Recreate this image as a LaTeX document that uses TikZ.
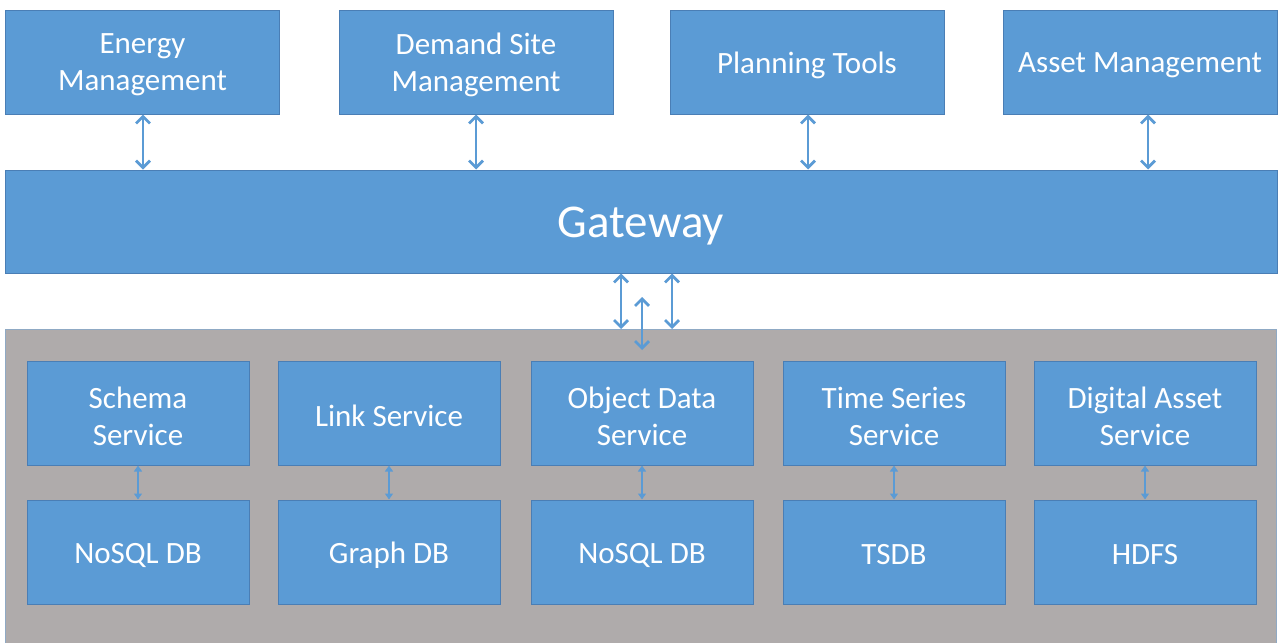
\documentclass[tikz,border=0pt]{standalone}
\usepackage{fontspec}
\setmainfont{Carlito}
\usetikzlibrary{arrows.meta}
\definecolor{boxblue}{HTML}{5B9BD5}
\definecolor{boxedge}{HTML}{4A7EB5}
\definecolor{panelgray}{HTML}{AFABAB}
\definecolor{paneledge}{HTML}{8FA9C4}
\tikzset{
  caption/.style={text=white, align=center, inner sep=0pt, yshift=-3pt,
    font=\fontsize{31}{37}\selectfont},
  blk/.style={draw=boxedge, line width=1pt, fill=boxblue, inner sep=0pt,
    label={[caption]center:#1}},
  topblk/.style={blk=#1, minimum width=274pt, minimum height=104pt},
  svcblk/.style={blk=#1, minimum width=222pt, minimum height=104pt},
  bigarrow/.style={draw=boxblue, line width=2.8pt,
    {Straight Barb[length=7pt,width=14pt,line width=2.8pt]}-{Straight Barb[length=7pt,width=14pt,line width=2.8pt]}},
  smallarrow/.style={draw=boxblue, line width=1.2pt,
    {Triangle[length=6pt,width=8pt]}-{Triangle[length=6pt,width=8pt]}}
}
\begin{document}
\begin{tikzpicture}[x=1pt,y=-1pt]
\useasboundingbox (0,0) rectangle (1278,643);
\fill[white] (0,0) rectangle (1278,643);

% back-end panel
\filldraw[fill=panelgray, draw=paneledge, line width=1pt] (5,329) rectangle (1276,650);

% applications
\node[topblk={Energy\\Management}]      (em)  at (142.5,62) {};
\node[topblk={Demand Site\\Management}] (dsm) at (476,62) {};
\node[topblk={Planning Tools}]          (pt)  at (807,62) {};
\node[topblk={Asset Management}]        (am)  at (1140,62) {};

% gateway
\node[draw=boxedge, line width=1pt, fill=boxblue, inner sep=0pt,
      minimum width=1272pt, minimum height=103pt,
      label={[caption, yshift=-2pt, font=\fontsize{47}{52}\selectfont]center:Gateway}]
      (gw) at (641,221.5) {};

% services
\node[svcblk={Schema\\Service}]       (s1) at (138,413) {};
\node[svcblk={Link Service}]          (s2) at (389,413) {};
\node[svcblk={Object Data\\Service}]  (s3) at (642,413) {};
\node[svcblk={Time Series\\Service}]  (s4) at (894,413) {};
\node[svcblk={Digital Asset\\Service}] (s5) at (1145,413) {};

% stores
\node[svcblk={NoSQL DB}] (d1) at (138,552) {};
\node[svcblk={Graph DB}] (d2) at (389,552) {};
\node[svcblk={NoSQL DB}] (d3) at (642,552) {};
\node[svcblk={TSDB}]     (d4) at (894,552) {};
\node[svcblk={HDFS}]     (d5) at (1145,552) {};

% gateway access points
\coordinate (gl) at (621,329);
\coordinate (gm) at (642,297);
\coordinate (gr) at (672,329);
\coordinate (pm) at (642,350);

% application <-> gateway links
\draw[bigarrow] (em.south -| 143,0) -- (gw.north -| 143,0);
\draw[bigarrow] (dsm.south -| 476,0) -- (gw.north -| 476,0);
\draw[bigarrow] (pt.south -| 808,0) -- (gw.north -| 808,0);
\draw[bigarrow] (am.south -| 1148,0) -- (gw.north -| 1148,0);

% gateway <-> back end links
\draw[bigarrow] (gw.south -| gl) -- (gl);
\draw[bigarrow] (gm) -- (pm);
\draw[bigarrow] (gw.south -| gr) -- (gr);

% service <-> store links
\foreach \i in {1,...,5}{
  \draw[smallarrow] (s\i.south) -- (d\i.north);
}
\end{tikzpicture}
\end{document}
